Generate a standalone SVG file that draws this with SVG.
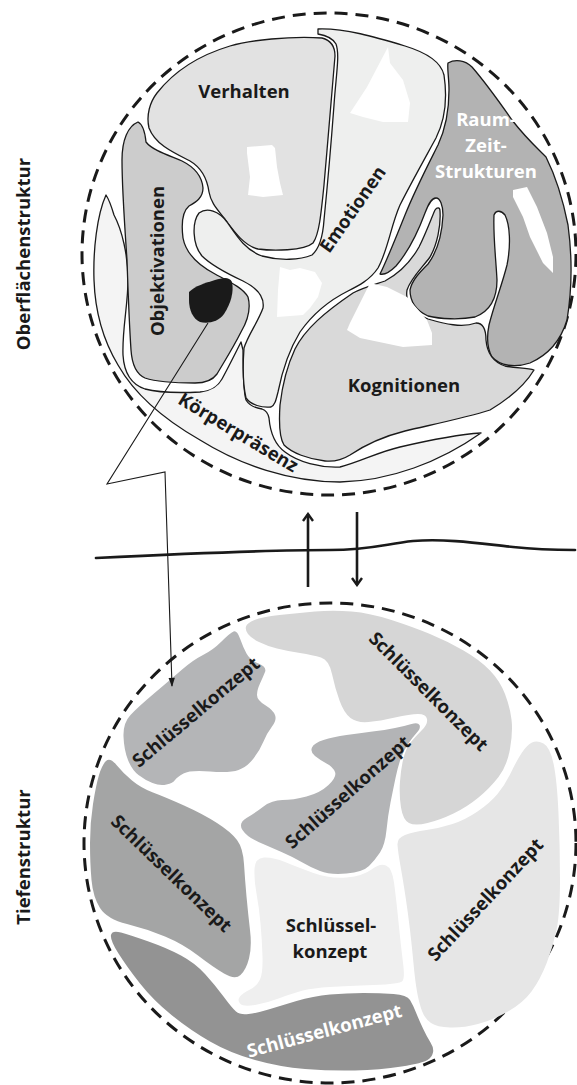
<svg xmlns="http://www.w3.org/2000/svg" width="577" height="1085" viewBox="0 0 577 1085">
<defs>
<style>
.reg{stroke:#1a1a1a;stroke-width:1.3;stroke-linejoin:round}
.lbl{font-family:"Open Sans","Noto Sans","DejaVu Sans",sans-serif;font-weight:700;font-size:18.5px;fill:#1a1a1a;text-anchor:middle}
.wlbl{fill:#ffffff}
.dash{fill:none;stroke:#1a1a1a;stroke-width:3;stroke-dasharray:13 8}
.patch{fill:#ffffff}
.conn{fill:none;stroke:#1a1a1a}
</style>
<marker id="chev" viewBox="0 0 12 12" refX="10" refY="6" markerWidth="12" markerHeight="12" markerUnits="userSpaceOnUse" orient="auto">
<path d="M3,1 L10,6 L3,11" fill="none" stroke="#1a1a1a" stroke-width="2.4" stroke-linejoin="miter"/>
</marker>
<marker id="tri" viewBox="0 0 10 10" refX="9" refY="5" markerWidth="12" markerHeight="9" markerUnits="userSpaceOnUse" orient="auto">
<path d="M0,1.5 L10,5 L0,8.5 Z" fill="#1a1a1a"/>
</marker>
</defs>
<rect width="577" height="1085" fill="#ffffff"/>

<g id="side-labels">
<text class="lbl" transform="translate(30,254) rotate(-90)" x="0" y="0">Oberflächenstruktur</text>
<text class="lbl" transform="translate(30,857) rotate(-90)" x="0" y="0">Tiefenstruktur</text>
</g>

<g id="oberflaeche">
<ellipse class="dash" cx="329" cy="254" rx="247" ry="241"/>

<g id="koerperpraesenz">
<path class="reg" fill="#f4f4f4" d="M106,195 C97,215 93,250 94,280 C95,310 103,340 118,365 C135,395 165,420 200,440 C240,465 290,482 340,482 C390,481 440,462 481,433 C465,434 430,440 400,447 C378,452 360,462 340,467 C320,468 298,462 285,452 C274,444 270,430 269,418 C268,413 265,410 262,409 C255,408 249,405 246,400 C243,390 243,365 243,350 L241,342 C236,352 228,368 222,379 C217,388 210,391 200,392 C180,393 160,393 145,389 C130,384 124,372 123,355 C122,330 128,305 128,280 C128,255 122,230 114,215 C111,205 108,198 106,195 Z"/>
<text class="lbl" transform="translate(235,438) rotate(31)" x="0" y="0">Körperpräsenz</text>
</g>

<g id="verhalten">
<path class="reg" fill="#e2e2e2" d="M157,93 C175,70 200,55 230,46 C250,40 290,36 322,38 C330,40 335,46 335,56 C332,90 328,140 324,185 C321,215 319,235 313,243 C304,251 272,251 258,249 C244,246 233,230 224,218 C217,209 211,203 209,192 C207,178 202,168 190,161 C172,152 155,144 149,128 C146,115 150,102 157,93 Z"/>
<polygon class="patch" points="247,147 272,145 275,148 277,167 280,183 283,195 263,197 248,195 250,177 247,153"/>
<text class="lbl" x="244" y="98">Verhalten</text>
</g>

<g id="emotionen">
<path class="reg" fill="#eeefee" d="M318,29 C345,28 375,37 405,46 C428,53 441,62 444,75 C447,95 446,118 436,138 C424,160 410,185 400,205 C391,225 388,250 378,268 C370,280 358,286 348,291 C330,300 312,315 300,332 C289,350 282,372 278,392 C276,400 275,405 271,407 C262,408 251,405 246,398 C243,385 243,362 244,348 C248,335 258,322 263,308 C265,295 255,287 243,281 C228,274 212,266 202,256 C192,244 192,222 199,213 C207,207 219,211 227,222 C236,235 245,250 262,256 C280,261 300,260 312,255 C320,248 323,235 324,220 C327,190 331,145 334,105 C336,75 340,55 336,44 C332,37 324,35 318,34 Z"/>
<polygon class="patch" points="388,47 390,63 403,80 410,103 408,122 383,122 363,117 350,113 367,87"/>
<polygon class="patch" points="280,267 290,270 300,268 315,272 322,283 318,297 310,308 303,315 277,317 278,290"/>
<text class="lbl" transform="translate(358,213) rotate(-55)" x="0" y="0">Emotionen</text>
</g>

<g id="objektivationen">
<path class="reg" fill="#cccccc" d="M138,122 C142,124 145,132 146,142 C152,150 168,155 182,161 C194,167 202,176 203,188 C203,198 196,202 189,206 C183,211 181,222 183,238 C186,254 198,265 215,274 C230,282 243,288 248,297 C251,308 248,320 241,332 C233,348 224,362 217,374 C212,381 205,383 195,383 C180,383 160,383 145,378 C136,374 132,365 131,350 C129,320 128,290 127,260 C125,230 122,190 122,160 C122,140 128,126 138,122 Z"/>
<path fill="#1a1a1a" d="M189,292 C195,286 205,283 215,280 C222,278 229,276 232,282 C234,292 231,303 224,314 C218,322 208,324 200,322 C193,319 189,310 189,300 Z"/>
<text class="lbl" transform="translate(164,261) rotate(-90)" x="0" y="0">Objektivationen</text>
</g>

<g id="raum-zeit">
<path class="reg" fill="#b3b3b3" d="M380,274 C386,262 395,240 405,215 C415,190 428,165 438,145 C445,130 449,110 449,90 C449,78 447,68 448,63 C455,59 465,60 472,67 C485,82 498,100 512,120 C525,137 537,148 546,157 C555,175 563,200 568,225 C572,255 572,290 567,320 C561,340 548,355 530,363 C515,368 500,366 492,357 C487,348 487,335 489,325 C494,305 502,285 507,265 C511,245 510,225 505,215 C501,210 496,210 494,215 C493,235 496,260 497,280 C497,300 488,312 475,317 C460,320 440,319 428,316 C415,310 410,300 410,290 C412,280 420,272 428,264 C437,252 442,235 443,215 C443,205 440,198 436,198 C431,198 428,205 425,213 C418,232 408,252 396,266 C390,272 384,275 380,274 Z"/>
<polygon class="patch" points="513,190 527,187 537,207 547,233 553,257 553,273 543,263 530,237 523,217 513,197"/>
<text class="lbl wlbl" x="486" y="126">Raum-</text>
<text class="lbl wlbl" x="486" y="152">Zeit-</text>
<text class="lbl wlbl" x="486" y="178">Strukturen</text>
</g>

<g id="kognitionen">
<path class="reg" fill="#d9d9d9" d="M353,293 C362,288 373,285 385,281 C398,274 410,263 419,247 C426,233 431,219 435,210 C437,207 440,207 440,211 C441,226 437,245 430,257 C422,268 411,278 407,290 C405,303 413,313 428,319 C445,324 462,328 476,323 C483,323 486,329 486,340 C487,352 493,362 505,366 C515,368 528,368 534,370 C525,385 510,398 490,410 C465,418 430,425 405,431 C385,436 365,445 350,455 C342,460 335,462 325,461 C308,459 292,453 284,445 C279,437 279,420 280,405 C282,388 287,366 295,349 C305,329 325,312 353,293 Z"/>
<polygon class="patch" points="370,283 387,287 407,297 427,320 432,333 432,345 403,347 360,338 347,330 350,323 360,303"/>
<text class="lbl" x="404" y="392">Kognitionen</text>
</g>
</g>

<path id="grenze" d="M96,558 C200,553 280,550 330,550 C370,550 385,544 413,541 C450,538 490,545 513,547 C540,550 560,550 575,550" fill="none" stroke="#1a1a1a" stroke-width="2.7" stroke-linecap="round"/>

<g id="tiefe">
<ellipse class="dash" cx="330" cy="843" rx="246" ry="240"/>
<g id="sk-oben-links">
<path fill="#b4b5b7" d="M240,638.5 Q243,647 246.5,653.5 Q250,660 258.5,663.5 Q267,667 265,672 Q263,677 260,683.5 Q257,690 257,695 Q257,700 265,705 Q273,710 275,715 Q277,720 272,726.5 Q267,733 263.5,741.5 Q260,750 253.5,758.5 Q247,767 238.5,770 Q230,773 210,771.5 Q190,770 183.5,773.5 Q177,777 175,780 Q173,783 166.5,784.5 Q160,786 152.5,783 Q145,780 138.5,775 Q132,770 128,760 Q124,750 123.5,736.5 Q123,723 130.5,715 Q138,707 154,693.5 Q170,680 181.5,670 Q193,660 203,655 Q213,650 221.5,641.5 Q230,633 233.5,631.5 Q237,630 240,638.5 Z"/>
<text class="lbl" transform="translate(200,717) rotate(-40)" x="0" y="0">Schlüsselkonzept</text>
</g>
<g id="sk-oben-rechts">
<path fill="#d6d6d6" d="M254.5,620 Q262,617 279.5,615 Q297,613 315,611.5 Q333,610 351.5,611.5 Q370,613 391.5,620 Q413,627 430,634 Q447,641 463.5,650.5 Q480,660 490,670.5 Q500,681 505,694 Q510,707 511.5,719.5 Q513,732 510,749 Q507,766 498.5,777 Q490,788 478.5,797.5 Q467,807 453.5,813.5 Q440,820 427.5,823 Q415,826 409,823 Q403,820 401,807.5 Q399,795 400,781.5 Q401,768 403.5,758 Q406,748 411,742 Q416,736 422,730 Q428,724 427,719 Q426,714 418,714 Q410,714 395,717.5 Q380,721 368.5,722 Q357,723 350.5,718 Q344,713 339.5,700.5 Q335,688 332,674 Q329,660 321,657.5 Q313,655 300,653 Q287,651 277,648.5 Q267,646 259,642 Q251,638 248,634 Q245,630 246,626.5 Q247,623 254.5,620 Z"/>
<text class="lbl" transform="translate(424,696) rotate(45)" x="0" y="0">Schlüsselkonzept</text>
</g>
<g id="sk-mitte">
<path fill="#b3b4b6" d="M419.5,725 Q421,728 416.5,733 Q412,738 408,744 Q404,750 401,758 Q398,766 395.5,778 Q393,790 390.5,802.5 Q388,815 386.5,830 Q385,845 380,852.5 Q375,860 369,866 Q363,872 346.5,873.5 Q330,875 320,871 Q310,867 301.5,862 Q293,857 281.5,852 Q270,847 258.5,842 Q247,837 242.5,830 Q238,823 246.5,818 Q255,813 263.5,806.5 Q272,800 282.5,800 Q293,800 306.5,796.5 Q320,793 328.5,785 Q337,777 335,772 Q333,767 326.5,763.5 Q320,760 315,756 Q310,752 312,747.5 Q314,743 323.5,740 Q333,737 346.5,735 Q360,733 372.5,731.5 Q385,730 395,728 Q405,726 411.5,724 Q418,722 419.5,725 Z"/>
<text class="lbl" transform="translate(352,797) rotate(-41.5)" x="0" y="0">Schlüsselkonzept</text>
</g>
<g id="sk-links">
<path fill="#a4a5a5" d="M116.5,765 Q123,773 132,780.5 Q141,788 153,792.5 Q165,797 184,805.5 Q203,814 217,823 Q231,832 237,840 Q243,848 244,864 Q245,880 246.5,896.5 Q248,913 250,930 Q252,947 249,958.5 Q246,970 240.5,975 Q235,980 224,973.5 Q213,967 198,955.5 Q183,944 165,936.5 Q147,929 127,924 Q107,919 100,908 Q93,897 91.5,880 Q90,863 90,843 Q90,823 93,804 Q96,785 99,775 Q102,765 106,761 Q110,757 116.5,765 Z"/>
<text class="lbl" transform="translate(167,878) rotate(44)" x="0" y="0">Schlüsselkonzept</text>
</g>
<g id="sk-zentrum">
<path fill="#efefef" d="M264,857.5 Q273,857 285,862 Q297,867 313.5,873 Q330,879 346.5,877.5 Q363,876 371.5,869.5 Q380,863 386,865.5 Q392,868 394,882.5 Q396,897 398.5,922 Q401,947 403,962.5 Q405,978 402.5,981 Q400,984 373.5,985 Q347,986 330,987 Q313,988 303,990.5 Q293,993 280,998 Q267,1003 255,1005 Q243,1007 240,1003.5 Q237,1000 240,996.5 Q243,993 250,989.5 Q257,986 260,979.5 Q263,973 262.5,956.5 Q262,940 260.5,923.5 Q259,907 256.5,893.5 Q254,880 254.5,869 Q255,858 264,857.5 Z"/>
<text class="lbl" x="331" y="932">Schlüssel-</text>
<text class="lbl" x="330" y="958">konzept</text>
</g>
<g id="sk-rechts">
<path fill="#e6e6e6" d="M543.5,743.5 Q550,747 553.5,763.5 Q557,780 558.5,813.5 Q560,847 560,880 Q560,913 556.5,930 Q553,947 546.5,963.5 Q540,980 531.5,991.5 Q523,1003 508,1011.5 Q493,1020 478,1024 Q463,1028 450,1027.5 Q437,1027 431,1023 Q425,1019 422,1011 Q419,1003 417,991.5 Q415,980 413.5,963.5 Q412,947 410,930 Q408,913 405.5,896.5 Q403,880 400.5,866 Q398,852 397.5,845 Q397,838 405,835 Q413,832 426.5,830 Q440,828 452.5,824 Q465,820 477.5,811.5 Q490,803 497.5,794 Q505,785 511,772.5 Q517,760 522,752.5 Q527,745 532,742.5 Q537,740 543.5,743.5 Z"/>
<text class="lbl" transform="translate(490,904) rotate(-47)" x="0" y="0">Schlüsselkonzept</text>
</g>
<g id="sk-unten">
<path fill="#939393" d="M121,932.5 Q130,935 148.5,941.5 Q167,948 181,955.5 Q195,963 205,974 Q215,985 223.5,996.5 Q232,1008 236,1011.5 Q240,1015 248.5,1014 Q257,1013 268.5,1009.5 Q280,1006 296.5,1001 Q313,996 330,994.5 Q347,993 363.5,993 Q380,993 393.5,994 Q407,995 410,1000 Q413,1005 416,1012.5 Q419,1020 423,1028.5 Q427,1037 430.5,1042.5 Q434,1048 433,1052.5 Q432,1057 427.5,1060 Q423,1063 401.5,1066.5 Q380,1070 355,1070.5 Q330,1071 305,1069 Q280,1067 255,1060 Q230,1053 210,1041.5 Q190,1030 171.5,1015 Q153,1000 140,983.5 Q127,967 118.5,953.5 Q110,940 111,935 Q112,930 121,932.5 Z"/>
<text class="lbl wlbl" transform="translate(326,1037) rotate(-15)" x="0" y="0">Schlüsselkonzept</text>
</g>
</g>

<g id="connectors">
<polyline class="conn" stroke-width="1.1" points="208,323 107,484 165,472 172,686" marker-end="url(#tri)"/>
<line class="conn" stroke-width="2.6" x1="308" y1="587" x2="308" y2="514" marker-end="url(#chev)"/>
<line class="conn" stroke-width="2.6" x1="357" y1="512" x2="357" y2="585" marker-end="url(#chev)"/>
</g>
</svg>
